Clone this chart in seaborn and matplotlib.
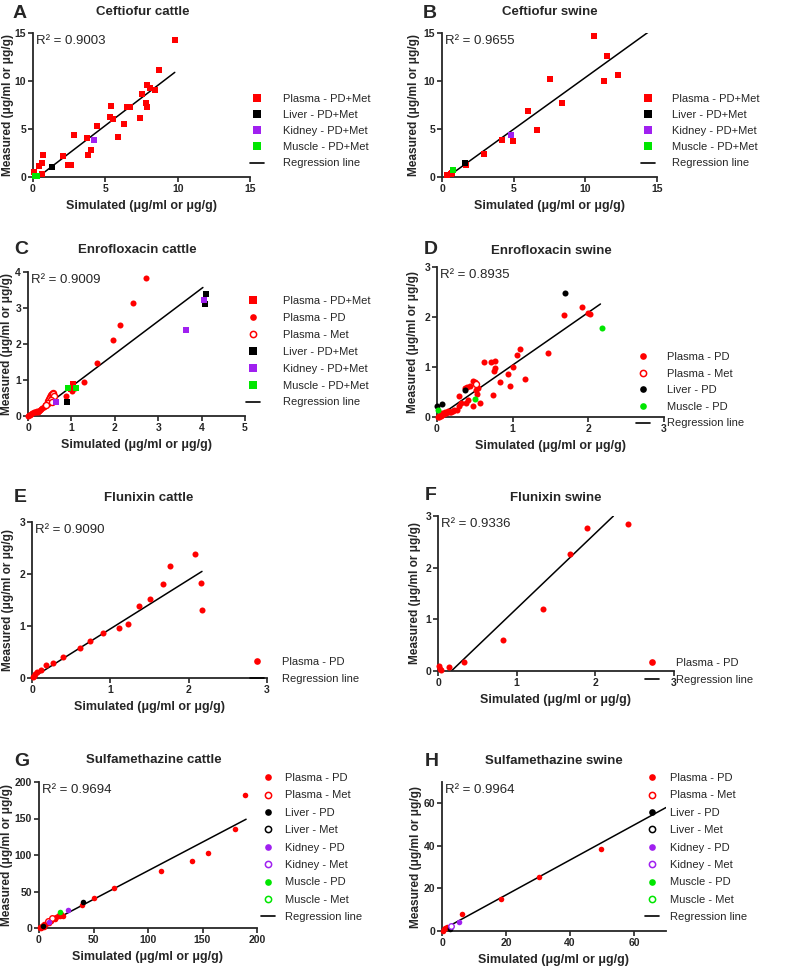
import matplotlib
matplotlib.use('Agg')
import matplotlib.pyplot as plt
import seaborn as sns
from matplotlib.lines import Line2D

# ---------------- data ----------------
# A: Ceftiofur cattle
A_plasma_x = [0.1, 0.3, 0.4, 0.6, 0.6, 0.7, 2.1, 2.4, 2.6, 2.8, 3.7, 3.8, 4.0, 4.4, 5.3, 5.4, 5.5, 5.9, 6.3, 6.5, 6.7, 7.4, 7.5, 7.8, 7.9, 7.9, 8.1, 8.4, 8.7, 9.8]
A_plasma_y = [0.5, 0.1, 1.1, 1.5, 0.3, 2.3, 2.2, 1.2, 1.3, 4.4, 4.1, 2.3, 2.8, 5.3, 6.3, 7.4, 6.0, 4.2, 5.5, 7.3, 7.3, 6.1, 8.6, 7.7, 7.3, 9.6, 9.3, 9.1, 11.1, 14.3]
A_liver_x = [1.3]
A_liver_y = [1.0]
A_kidney_x = [4.2]
A_kidney_y = [3.9]
A_muscle_x = [0.15, 0.25]
A_muscle_y = [0.15, 0.1]
A_reg_x = [0.7, 9.8]
A_reg_y = [0.4, 10.9]

# B: Ceftiofur swine
B_plasma_x = [0.35, 0.6, 0.7, 1.7, 2.95, 4.2, 4.95, 6.0, 6.6, 7.5, 8.4, 10.6, 11.3, 11.5, 12.3]
B_plasma_y = [0.2, 0.35, 0.45, 1.25, 2.4, 3.9, 3.7, 6.9, 4.9, 10.2, 7.7, 14.7, 10.0, 12.6, 10.6]
B_liver_x = [1.6]
B_liver_y = [1.5]
B_kidney_x = [4.8]
B_kidney_y = [4.4]
B_muscle_x = [0.75]
B_muscle_y = [0.7]
B_reg_x = [0.7, 14.4]
B_reg_y = [0.35, 15.1]

# C: Enrofloxacin cattle
C_pdmet_x = [0.98, 1.03]
C_pdmet_y = [0.76, 0.88]
C_pd_x = [0.0, 0.02, 0.05, 0.08, 0.1, 0.13, 0.15, 0.18, 0.2, 0.23, 0.25, 0.28, 0.3, 0.33, 0.36, 0.4, 0.43, 0.47, 0.5, 0.88, 1.01, 1.09, 1.30, 1.59, 1.95, 2.12, 2.43, 2.71]
C_pd_y = [0.0, 0.02, 0.04, 0.06, 0.08, 0.1, 0.1, 0.12, 0.13, 0.12, 0.15, 0.18, 0.2, 0.22, 0.26, 0.3, 0.33, 0.37, 0.42, 0.56, 0.70, 0.77, 0.94, 1.46, 2.10, 2.54, 3.13, 3.84]
C_met_x = [0.45, 0.48, 0.5, 0.52, 0.55, 0.57, 0.58, 0.6, 0.53, 0.47, 0.42, 0.56]
C_met_y = [0.42, 0.48, 0.52, 0.57, 0.62, 0.64, 0.6, 0.55, 0.45, 0.35, 0.3, 0.4]
C_liver_x = [0.9, 4.07, 4.1]
C_liver_y = [0.39, 3.1, 3.4]
C_kidney_x = [0.65, 3.65, 4.06]
C_kidney_y = [0.39, 2.4, 3.22]
C_muscle_x = [0.93, 1.1]
C_muscle_y = [0.79, 0.79]
C_reg_x = [0.2, 4.03]
C_reg_y = [0.09, 3.57]

# D: Enrofloxacin swine
D_pd_x = [0.01, 0.02, 0.03, 0.04, 0.05, 0.06, 0.07, 0.08, 0.09, 0.1, 0.11, 0.12, 0.14, 0.15, 0.17, 0.19, 0.21, 0.23,
          0.26, 0.29, 0.29, 0.32, 0.37, 0.38, 0.4, 0.41, 0.43, 0.47, 0.47, 0.5, 0.51, 0.53, 0.54, 0.57, 0.62, 0.72,
          0.74, 0.75, 0.76, 0.77, 0.83, 0.94, 0.96, 1.0, 1.06, 1.1, 1.16, 1.47, 1.68, 1.91, 2.0, 2.02]
D_pd_y = [0.01, 0.0, 0.02, 0.04, 0.03, 0.08, 0.05, 0.07, 0.06, 0.11, 0.08, 0.09, 0.1, 0.12, 0.11, 0.1, 0.13, 0.14,
          0.15, 0.23, 0.43, 0.28, 0.59, 0.29, 0.6, 0.35, 0.63, 0.73, 0.23, 0.7, 0.55, 0.47, 0.58, 0.28, 1.11, 1.1,
          0.45, 0.93, 1.13, 0.99, 0.71, 0.86, 0.63, 1.0, 1.25, 1.37, 0.77, 1.28, 2.05, 2.2, 2.08, 2.06]
D_met_x = [0.52]
D_met_y = [0.66]
D_liver_x = [0.0, 0.06, 0.37, 1.69]
D_liver_y = [0.23, 0.27, 0.55, 2.48]
D_muscle_x = [0.01, 0.5, 2.18]
D_muscle_y = [0.15, 0.37, 1.79]
D_reg_x = [0.05, 2.16]
D_reg_y = [0.04, 2.26]

# E: Flunixin cattle
E_pd_x = [0.01, 0.02, 0.04, 0.07, 0.11, 0.18, 0.27, 0.4, 0.61, 0.74, 0.91, 1.11, 1.23, 1.36, 1.5, 1.67, 1.76, 2.08, 2.16, 2.17]
E_pd_y = [0.01, 0.03, 0.07, 0.11, 0.16, 0.25, 0.29, 0.41, 0.57, 0.71, 0.86, 0.96, 1.03, 1.38, 1.51, 1.81, 2.16, 2.39, 1.83, 1.31]
E_reg_x = [0.0, 2.17]
E_reg_y = [0.0, 2.05]

# F: Flunixin swine
F_pd_x = [0.01, 0.03, 0.04, 0.14, 0.33, 0.83, 1.33, 1.68, 1.9, 2.42]
F_pd_y = [0.1, 0.04, 0.02, 0.07, 0.18, 0.6, 1.2, 2.27, 2.77, 2.85]
F_reg_x = [0.17, 2.23]
F_reg_y = [0.0, 3.0]

# G: Sulfamethazine cattle
G_pd_x = [0.5, 1, 2, 2, 3, 3, 4, 5, 5, 6, 7, 8, 9, 10, 11, 12, 13, 14, 15, 16, 17, 18, 19, 20, 22, 39, 50.6, 68.6, 112, 140, 155, 180, 189]
G_pd_y = [0.3, 1, 0.5, 2, 1, 3, 4, 2, 6, 5, 7, 9, 7, 11, 9, 13, 12, 14, 13, 15, 16, 18, 17, 19, 17, 32, 41.5, 54.8, 77.6, 91.7, 103, 136, 182]
G_met_x = [8, 12]
G_met_y = [10, 14]
G_liver_x = [4, 40]
G_liver_y = [3, 35]
G_kidney_x = [9, 27]
G_kidney_y = [8, 25]
G_muscle_x = [19]
G_muscle_y = [22]
G_reg_x = [0, 190]
G_reg_y = [0, 149]

# H: Sulfamethazine swine
H_pd_x = [0.3, 0.7, 1.0, 1.6, 2.1, 6.4, 18.3, 30.2, 49.7]
H_pd_y = [0.2, 0.8, 1.3, 2.0, 1.6, 7.9, 15.1, 25.2, 38.3]
H_liver_x = [2.4, 2.6]
H_liver_y = [0.8, 1.6]
H_kidney_x = [5.2]
H_kidney_y = [4.1]
H_kidney_met_x = [2.9]
H_kidney_met_y = [2.5]
H_reg_x = [0, 70]
H_reg_y = [0.5, 58]

R2_values = ["0.9003", "0.9655", "0.9009", "0.8935", "0.9090", "0.9336", "0.9694", "0.9964"]
titles = ["Ceftiofur cattle", "Ceftiofur swine", "Enrofloxacin cattle", "Enrofloxacin swine",
          "Flunixin cattle", "Flunixin swine", "Sulfamethazine cattle", "Sulfamethazine swine"]
letters = ["A", "B", "C", "D", "E", "F", "G", "H"]

# ---------------- style ----------------
W, H = 787, 969
sns.set_style('ticks')
plt.rcParams['font.family'] = ['Liberation Sans', 'DejaVu Sans']
fig = plt.figure(figsize=(W / 100, H / 100), dpi=100)

RED = '#FF0000'
BLACK = '#000000'
PURPLE = '#A020F0'
GREEN = '#00E600'
XLAB = "Simulated (\u03bcg/ml or \u03bcg/g)"
YLAB = "Measured (\u03bcg/ml or \u03bcg/g)"


def fx(x):
    return x / W


def fy(y):
    return 1 - y / H


def scatter(ax, x, y, color, marker, hollow=False, s=20):
    if hollow:
        sns.scatterplot(x=x, y=y, ax=ax, marker=marker, s=s, color='white', edgecolor=color,
                        linewidth=1.0, clip_on=False, zorder=3, legend=False)
    else:
        sns.scatterplot(x=x, y=y, ax=ax, marker=marker, s=s, color=color, edgecolor=color,
                        linewidth=0, clip_on=False, zorder=3, legend=False)


def handle(kind, color):
    if kind == 'line':
        return Line2D([], [], color='black', lw=1.2)
    if kind == 's':
        return Line2D([], [], ls='none', marker='s', ms=5.2, mfc=color, mec=color, mew=0)
    if kind == 'o':
        return Line2D([], [], ls='none', marker='o', ms=4.8, mfc=color, mec=color, mew=0)
    return Line2D([], [], ls='none', marker='o', ms=4.5, mfc='white', mec=color, mew=1.1)


def panel(idx, rect, xlim, ylim, xticks, yticks, series, reg_x, reg_y,
          letter_xy, title_xy, ylab_x, entries, leg_mx, leg_tx, leg_y0, leg_dy):
    x0, x1, top, bottom = rect
    ax = fig.add_axes([fx(x0), fy(bottom), (x1 - x0) / W, (bottom - top) / H])
    sns.lineplot(x=reg_x, y=reg_y, ax=ax, color='black', linewidth=1.1, zorder=2)
    for xs, ys, color, marker, hollow, s in series:
        scatter(ax, xs, ys, color, marker, hollow, s)
    ax.set_xlim(*xlim)
    ax.set_ylim(*ylim)
    ax.set_xticks(xticks)
    ax.set_yticks(yticks)
    ax.set_xlabel('')
    ax.set_ylabel('')
    sns.despine(ax=ax)
    for sp in ['left', 'bottom']:
        ax.spines[sp].set_linewidth(1.3)
    ax.tick_params(direction='out', width=1.2, length=3.5, labelsize=7.5, pad=1.5)
    for lbl in ax.get_xticklabels() + ax.get_yticklabels():
        lbl.set_fontweight('bold')
    ax.text(0.012, 0.985, "R\u00b2 = " + R2_values[idx], transform=ax.transAxes,
            ha='left', va='top', fontsize=9.5)
    fig.text(fx(letter_xy[0]), fy(letter_xy[1]), letters[idx], fontsize=14, fontweight='bold',
             ha='left', va='center')
    fig.text(fx(title_xy[0]), fy(title_xy[1]), titles[idx], fontsize=9.5, fontweight='bold',
             ha='center', va='center')
    fig.text(fx((x0 + x1) / 2), fy(bottom + 29), XLAB, fontsize=9, fontweight='bold',
             ha='center', va='center')
    fig.text(fx(ylab_x), fy((top + bottom) / 2), YLAB, fontsize=8.6, fontweight='bold',
             ha='center', va='center', rotation=90)
    handles = [handle(k, c) for (_, k, c) in entries]
    labels = [e[0] for e in entries]
    fs = 8
    fpx = fs * 100 / 72
    hl = 1.2
    left = leg_mx - hl * fpx / 2
    pad = (leg_tx - left - hl * fpx) / fpx
    lspace = (leg_dy - 0.89 * fpx) / fpx
    fig.legend(handles, labels, loc='upper left',
               bbox_to_anchor=(fx(left), fy(leg_y0 - 0.45 * fpx)), bbox_transform=fig.transFigure,
               frameon=False, fontsize=fs, handlelength=hl, handletextpad=pad, borderpad=0,
               borderaxespad=0, labelspacing=lspace, numpoints=1)
    return ax


SQ = 20
CI = 19
CS = 16

ent_AB = [("Plasma - PD+Met", 's', RED), ("Liver - PD+Met", 's', BLACK),
          ("Kidney - PD+Met", 's', PURPLE), ("Muscle - PD+Met", 's', GREEN),
          ("Regression line", 'line', BLACK)]
ent_C = [("Plasma - PD+Met", 's', RED), ("Plasma - PD", 'o', RED), ("Plasma - Met", 'oo', RED),
         ("Liver - PD+Met", 's', BLACK), ("Kidney - PD+Met", 's', PURPLE),
         ("Muscle - PD+Met", 's', GREEN), ("Regression line", 'line', BLACK)]
ent_D = [("Plasma - PD", 'o', RED), ("Plasma - Met", 'oo', RED), ("Liver - PD", 'o', BLACK),
         ("Muscle - PD", 'o', GREEN), ("Regression line", 'line', BLACK)]
ent_EF = [("Plasma - PD", 'o', RED), ("Regression line", 'line', BLACK)]
ent_GH = [("Plasma - PD", 'o', RED), ("Plasma - Met", 'oo', RED), ("Liver - PD", 'o', BLACK),
          ("Liver - Met", 'oo', BLACK), ("Kidney - PD", 'o', PURPLE), ("Kidney - Met", 'oo', PURPLE),
          ("Muscle - PD", 'o', GREEN), ("Muscle - Met", 'oo', GREEN), ("Regression line", 'line', BLACK)]

# A
panel(0, (33, 250, 33, 177), (0, 15), (0, 15), [0, 5, 10, 15], [0, 5, 10, 15],
      [(A_plasma_x, A_plasma_y, RED, 's', False, SQ), (A_liver_x, A_liver_y, BLACK, 's', False, SQ),
       (A_kidney_x, A_kidney_y, PURPLE, 's', False, SQ), (A_muscle_x, A_muscle_y, GREEN, 's', False, SQ)],
      A_reg_x, A_reg_y, (13, 13), (143, 12), 8.5, ent_AB, 257, 283, 99, 16)
# B
panel(1, (442, 657, 33, 177), (0, 15), (0, 15), [0, 5, 10, 15], [0, 5, 10, 15],
      [(B_plasma_x, B_plasma_y, RED, 's', False, SQ), (B_liver_x, B_liver_y, BLACK, 's', False, SQ),
       (B_kidney_x, B_kidney_y, PURPLE, 's', False, SQ), (B_muscle_x, B_muscle_y, GREEN, 's', False, SQ)],
      B_reg_x, B_reg_y, (423, 13), (550, 12), 414, ent_AB, 648, 672, 99, 16)
# C
panel(2, (28, 245, 272, 416), (0, 5), (0, 4), [0, 1, 2, 3, 4, 5], [0, 1, 2, 3, 4],
      [(C_pd_x, C_pd_y, RED, 'o', False, CI), (C_met_x, C_met_y, RED, 'o', True, CI),
       (C_pdmet_x, C_pdmet_y, RED, 's', False, SQ), (C_liver_x, C_liver_y, BLACK, 's', False, SQ),
       (C_kidney_x, C_kidney_y, PURPLE, 's', False, SQ), (C_muscle_x, C_muscle_y, GREEN, 's', False, SQ)],
      C_reg_x, C_reg_y, (14, 249), (137, 250), 7, ent_C, 253, 283, 301, 16.8)
# D
panel(3, (437, 664, 267, 417), (0, 3), (0, 3), [0, 1, 2, 3], [0, 1, 2, 3],
      [(D_pd_x, D_pd_y, RED, 'o', False, CI), (D_met_x, D_met_y, RED, 'o', True, CI),
       (D_liver_x, D_liver_y, BLACK, 'o', False, CI), (D_muscle_x, D_muscle_y, GREEN, 'o', False, CI)],
      D_reg_x, D_reg_y, (424, 249), (551, 251), 413, ent_D, 643, 667, 357, 16.5)
# E
panel(4, (32, 267, 522, 678), (0, 3), (0, 3), [0, 1, 2, 3], [0, 1, 2, 3],
      [(E_pd_x, E_pd_y, RED, 'o', False, CI)],
      E_reg_x, E_reg_y, (14, 497), (149, 498), 8, ent_EF, 257, 282, 662, 17)
# F
panel(5, (438, 674, 516, 671), (0, 3), (0, 3), [0, 1, 2, 3], [0, 1, 2, 3],
      [(F_pd_x, F_pd_y, RED, 'o', False, CI)],
      F_reg_x, F_reg_y, (425, 496), (556, 498), 415, ent_EF, 652, 676, 663, 17)
# G
panel(6, (39, 257, 782, 928), (0, 200), (0, 200), [0, 50, 100, 150, 200], [0, 50, 100, 150, 200],
      [(G_pd_x, G_pd_y, RED, 'o', False, CS), (G_met_x, G_met_y, RED, 'o', True, CS),
       (G_liver_x, G_liver_y, BLACK, 'o', False, CS), (G_kidney_x, G_kidney_y, PURPLE, 'o', False, CS),
       (G_muscle_x, G_muscle_y, GREEN, 'o', False, CS)],
      G_reg_x, G_reg_y, (14, 762), (154, 760), 7.5, ent_GH, 268, 285, 778, 17.3)
# H
panel(7, (442, 666, 782, 931), (0, 70), (0, 70), [0, 20, 40, 60], [0, 20, 40, 60],
      [(H_pd_x, H_pd_y, RED, 'o', False, CS), (H_liver_x, H_liver_y, BLACK, 'o', False, CS),
       (H_kidney_x, H_kidney_y, PURPLE, 'o', False, CS),
       (H_kidney_met_x, H_kidney_met_y, PURPLE, 'o', True, CS)],
      H_reg_x, H_reg_y, (425, 762), (554, 761), 416, ent_GH, 652, 670, 778, 17.3)

fig.savefig('out.png', dpi=100)
